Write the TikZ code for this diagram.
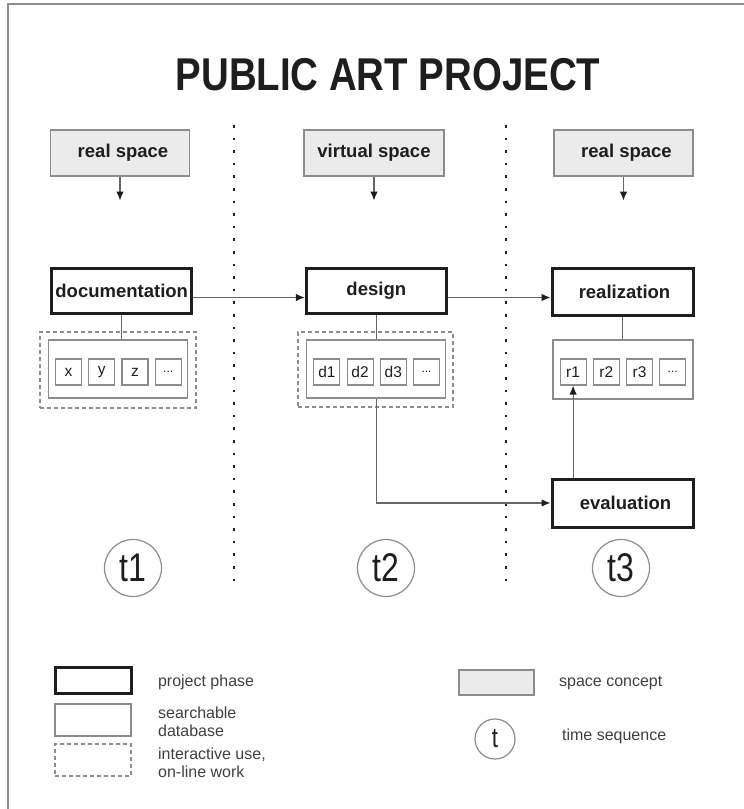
\documentclass[tikz,border=0pt]{standalone}
\usepackage{fontspec}
\setmainfont{Liberation Sans}
\usetikzlibrary{arrows.meta,positioning}
\definecolor{linegray}{HTML}{666666}
\definecolor{boxgray}{HTML}{8C8C8C}
\definecolor{spacefill}{HTML}{EBEBEB}
\definecolor{inkblack}{HTML}{1E1E1E}
\newcommand{\boxfont}{\fontsize{18.5}{20}\selectfont\bfseries}
\newcommand{\legendfont}{\fontsize{16}{18}\selectfont}
\newcommand{\timelabel}[1]{{\fontsize{40}{40}\selectfont\scalebox{0.8}[1]{#1}}}
\newcommand{\more}{\fontsize{12}{12}\selectfont...}
\tikzset{
    node style space/.style={draw=boxgray,fill=spacefill,line width=1.2pt,minimum width=139pt,minimum height=46pt,font=\boxfont,text=inkblack},
    node style phase/.style={draw=inkblack,line width=3pt,minimum width=140pt,minimum height=45pt,font=\boxfont,text=inkblack},
    node style db/.style={draw=boxgray,line width=1.2pt,minimum width=139pt,minimum height=58pt},
    node style web/.style={draw=boxgray,line width=1.2pt,dash pattern=on 4pt off 3pt,minimum width=156pt,minimum height=76pt},
    node style item/.style={draw=boxgray,line width=1.1pt,minimum size=26pt,inner sep=0pt,font=\fontsize{15.5}{15.5}\selectfont,text=inkblack},
    node style time/.style={draw=boxgray,circle,line width=1.2pt,minimum size=57pt,inner sep=0pt,text=inkblack},
    node style legend/.style={align=left,font=\legendfont,text=inkblack!85},
    arrow style link/.style={draw=linegray,line width=1.2pt},
    dot line/.style={draw=inkblack,line width=2.6pt,dash pattern=on 2.6pt off 10pt},
}

\begin{document}
\begin{tikzpicture}[x=1pt,y=-1pt,>={Latex[length=9pt,width=7.5pt,color=inkblack]}]
\useasboundingbox (0,0) rectangle (744,809);
% cadre et titre
\draw[draw=boxgray,line width=2pt] (8,809) -- (8,4) -- (744,4);
\node[font=\fontsize{46}{46}\selectfont\bfseries,text=inkblack] (title) at (388,75)
    {\scalebox{0.835}[1]{PUBLIC ART PROJECT}};
% separations
\draw[dot line] (234,125) -- (234,584);
\draw[dot line] (506,125) -- (506,584);
% les espaces
\node[node style space] (rs1) at (120,153)   {\hspace{6pt}real space};
\node[node style space,minimum width=140pt] (vs) at (374,153) {virtual space};
\node[node style space] (rs2) at (623.5,153) {\hspace{6pt}real space};
\foreach \s in {rs1,vs,rs2}{
    \coordinate (\s-end) at ([yshift=-24pt]\s.south);
    \draw[arrow style link,->] (\s.south) -- (\s-end);
}
% les phases
\node[node style phase] (documentation) at (121.7,290.5) {documentation};
\node[node style phase] (design)        at (376.3,290.5) {design};
\node[node style phase,minimum width=141pt,minimum height=47pt] (realization) at (622.5,291.5) {\hspace{4pt}realization};
\node[node style phase,minimum width=141pt,minimum height=48pt] (evaluation)  at (622.5,503)   {\hspace{6pt}evaluation};
% les bases
\node[node style web] (docweb) at (118,370)   {};
\node[node style web,minimum width=155pt,minimum height=75pt] (desweb) at (375.5,369.5) {};
\node[node style db] (docdb) at (118,369)   {};
\node[node style db] (desdb) at (376.3,369) {};
\node[node style db,minimum width=140pt,minimum height=59pt] (realdb) at (623,369.5) {};
\foreach \lbl [count=\i from 0] in {x,y,z,\more}
    \node[node style item] (doc-\i) at ([xshift=20.7pt+33.2pt*\i,yshift=-3pt]docdb.west) {\lbl};
\foreach \lbl [count=\i from 0] in {d1,d2,d3,\more}
    \node[node style item] (des-\i) at ([xshift=20.7pt+33.2pt*\i,yshift=-3pt]desdb.west) {\lbl};
\foreach \lbl [count=\i from 0] in {r1,r2,r3,\more}
    \node[node style item] (real-\i) at ([xshift=20.7pt+33.2pt*\i,yshift=-2.5pt]realdb.west) {\lbl};
% les liens
\draw[arrow style link] (documentation.south) -- (documentation.south |- docdb.north);
\draw[arrow style link] (design.south) -- (design.south |- desdb.north);
\draw[arrow style link] (realization.south) -- (realization.south |- realdb.north);
\draw[arrow style link,->] ([yshift=-7pt]documentation.east) -- ([yshift=-7pt]design.west);
\draw[arrow style link,->] ([yshift=-7pt]design.east) -- ([yshift=-6pt]realization.west);
\draw[arrow style link,->] (desdb.south) |- (evaluation.west);
\draw[arrow style link,->] (evaluation.north -| real-0.south) -- (real-0.south);
% le temps
\node[node style time] (t1) at (133,568) {\timelabel{t1}};
\node[node style time] (t2) at (386,568) {\timelabel{t2}};
\node[node style time] (t3) at (621,568) {\timelabel{t3}};
% la legende
\node[node style phase,minimum width=76pt,minimum height=26pt] (lg-phase) at (93,680) {};
\node[node style db,minimum width=76pt,minimum height=32pt]    (lg-db)    at (93,720) {};
\node[node style web,minimum width=76pt,minimum height=32pt]   (lg-web)   at (93,760) {};
\node[node style legend,right=22pt of lg-phase,yshift=-2pt] (lg-phase-txt) {project phase};
\node[node style legend,right=23pt of lg-db,yshift=-2pt]    (lg-db-txt)    {searchable\\database};
\node[node style legend,right=23pt of lg-web,yshift=-3pt]   (lg-web-txt)   {interactive use,\\on-line work};
\node[node style space,minimum width=75pt,minimum height=25pt] (lg-space) at (496.5,682.5) {};
\node[node style time,minimum size=40pt] (lg-time) at (495,739)
    {{\fontsize{28}{28}\selectfont\scalebox{0.8}[1]{t}}};
\node[node style legend,right=21pt of lg-space] (lg-space-txt) {space concept};
\node[node style legend,right=43pt of lg-time,yshift=3pt] (lg-time-txt) {time sequence};
\end{tikzpicture}
\end{document}
